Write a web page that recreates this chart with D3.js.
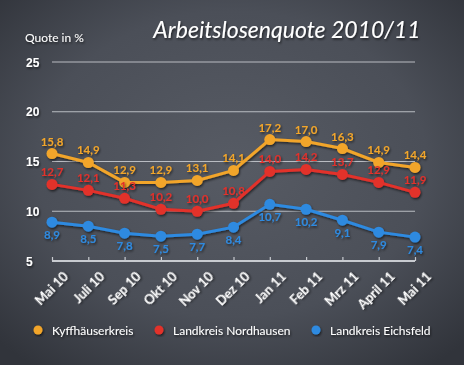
<!DOCTYPE html>
<html><head><meta charset="utf-8">
<script src="https://cdn.jsdelivr.net/npm/d3@7"></script>
<style>
html,body{margin:0;padding:0;background:#3b3e45;}
svg{display:block;}
</style></head>
<body>
<svg id="chart" width="464" height="365"></svg>
<script>
const categories = ["Mai 10","Juli 10","Sep 10","Okt 10","Nov 10","Dez 10","Jan 11","Feb 11","Mrz 11","April 11","Mai 11"];
const kyffhaeuser = [15.8,14.9,12.9,12.9,13.1,14.1,17.2,17.0,16.3,14.9,14.4];
const nordhausen = [12.7,12.1,11.3,10.2,10.0,10.8,14.0,14.2,13.7,12.9,11.9];
const eichsfeld = [8.9,8.5,7.8,7.5,7.7,8.4,10.7,10.2,9.1,7.9,7.4];
const yTicks = [5,10,15,20,25];
const seriesNames = ["Kyffhäuserkreis","Landkreis Nordhausen","Landkreis Eichsfeld"];
const seriesColors = ["#f2a52a","#e2302b","#2e8ae0"];

const svg = d3.select("#chart");
const W = 464, H = 365;
const defs = svg.append("defs");
const bg = defs.append("radialGradient").attr("id","bg").attr("cx","50%").attr("cy","45%").attr("r","70%");
bg.append("stop").attr("offset","0%").attr("stop-color","#575b64");
bg.append("stop").attr("offset","60%").attr("stop-color","#4b4f58");
bg.append("stop").attr("offset","100%").attr("stop-color","#31343b");
const sh = defs.append("filter").attr("id","sh").attr("x","-20%").attr("y","-20%").attr("width","140%").attr("height","140%");
sh.append("feDropShadow").attr("dx",1).attr("dy",1.5).attr("stdDeviation",1).attr("flood-color","#000").attr("flood-opacity",0.6);

svg.append("rect").attr("width",W).attr("height",H).attr("fill","url(#bg)");

const x = d3.scalePoint().domain(categories).range([52,415]);
const y = d3.scaleLinear().domain([5,25]).range([261,62]);

// gridlines
svg.append("g").selectAll("line").data(yTicks.filter(t=>t>5)).join("line")
  .attr("x1",52).attr("x2",415).attr("y1",d=>y(d)).attr("y2",d=>y(d))
  .attr("stroke","#b9bcc2").attr("stroke-width",1.2);

// y labels
svg.append("g").selectAll("text").data(yTicks).join("text")
  .attr("x",26).attr("y",d=>y(d)+4.5)
  .attr("fill","#fff").attr("font-family","Liberation Sans, Arial, sans-serif")
  .attr("font-weight","bold").attr("font-size",12).attr("filter","url(#sh)")
  .text(d=>d);

// x axis
const xAxis = svg.append("g").attr("transform",`translate(0,${y(5)})`)
  .call(d3.axisBottom(x).tickSize(-4).tickSizeOuter(0).tickPadding(8));
xAxis.select(".domain").attr("stroke","#c8cbd0").attr("stroke-width",2).attr("d","M52,0H415");
xAxis.selectAll(".tick line").attr("stroke","#c8cbd0").attr("stroke-width",1.2).attr("y2",-4);
xAxis.selectAll(".tick text")
  .attr("fill","#fff").attr("font-family","Lato, Open Sans, sans-serif")
  .attr("font-size",13).attr("font-weight","bold")
  .attr("text-anchor","end").attr("filter","url(#sh)")
  .attr("transform","translate(13,13) rotate(-45)")
  .attr("dy","0.35em").attr("y",0).attr("x",0);

// title
svg.append("text").attr("x",287).attr("y",38).attr("text-anchor","middle")
  .attr("fill","#fff").attr("font-family","Lato, Open Sans, sans-serif")
  .attr("font-style","italic").attr("font-size",23).attr("filter","url(#sh)")
  .text("Arbeitslosenquote 2010/11");
svg.append("text").attr("x",25).attr("y",42)
  .attr("fill","#fff").attr("font-family","Lato, Open Sans, sans-serif")
  .attr("font-size",12).attr("filter","url(#sh)")
  .text("Quote in %");

const allSeries = [kyffhaeuser, nordhausen, eichsfeld];
const line = d3.line().x((d,i)=>x(categories[i])).y(d=>y(d));
const fmt = v => v.toFixed(1).replace(".",",");
allSeries.forEach((vals,si)=>{
  const g = svg.append("g").attr("filter","url(#sh)");
  g.append("path").datum(vals).attr("d",line).attr("fill","none")
    .attr("stroke",seriesColors[si]).attr("stroke-width",3);
  g.selectAll("circle").data(vals).join("circle")
    .attr("cx",(d,i)=>x(categories[i])).attr("cy",d=>y(d)).attr("r",5.5)
    .attr("fill",seriesColors[si]);
  g.selectAll("text").data(vals).join("text")
    .attr("x",(d,i)=>x(categories[i])).attr("y",d=>si===2 ? y(d)+17 : y(d)-8)
    .attr("text-anchor","middle").attr("fill",seriesColors[si])
    .attr("font-family","Lato, Open Sans, sans-serif").attr("font-size",11.5).attr("font-weight","bold")
    .text(fmt);
});

// legend
const legX = [38,159,316];
const lg = svg.append("g");
seriesNames.forEach((n,i)=>{
  lg.append("circle").attr("cx",legX[i]).attr("cy",330).attr("r",4.5).attr("fill",seriesColors[i]).attr("filter","url(#sh)");
  lg.append("text").attr("x",legX[i]+14).attr("y",334.5).attr("fill","#fff")
    .attr("font-family","Lato, Open Sans, sans-serif").attr("font-size",12).attr("filter","url(#sh)").text(n);
});
</script>
</body></html>
